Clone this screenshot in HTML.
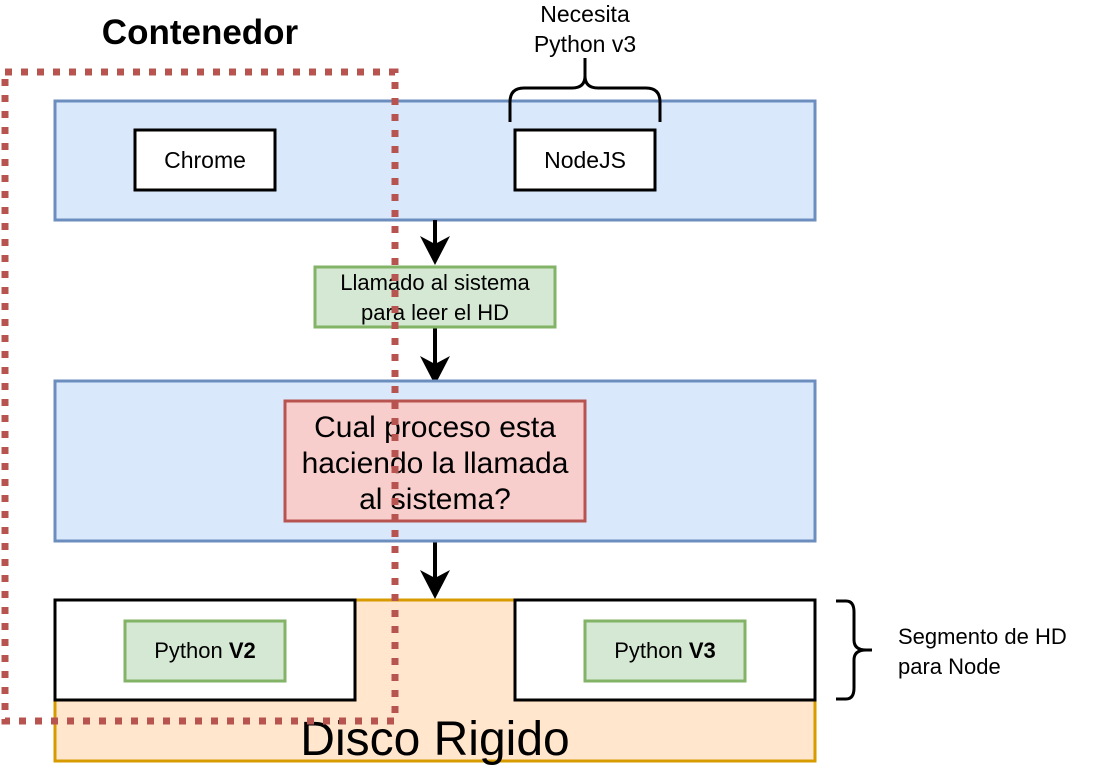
<!DOCTYPE html>
<html><head><meta charset="utf-8"><style>
html,body{margin:0;padding:0;background:#fff;}
svg{display:block;}
text{font-family:"Liberation Sans",Arial,sans-serif;fill:#000;}
</style></head><body>
<svg width="1096" height="768" viewBox="0 0 1096 768" xmlns="http://www.w3.org/2000/svg">
<!-- top blue -->
<rect x="55" y="101" width="760" height="119" fill="#dae8fc" stroke="#6c8ebf" stroke-width="3"/>
<rect x="135" y="130" width="140" height="60" fill="#fff" stroke="#000" stroke-width="3"/>
<text x="205" y="168" font-size="23" text-anchor="middle">Chrome</text>
<rect x="515" y="130" width="140" height="60" fill="#fff" stroke="#000" stroke-width="3"/>
<text x="585" y="168" font-size="23" text-anchor="middle">NodeJS</text>
<!-- brace top -->
<path d="M510,122 L510,102 Q510,88 524,88 L572,88 Q585,88 585,76 L585,58 M585,76 Q585,88 598,88 L646,88 Q660,88 660,102 L660,122" fill="none" stroke="#000" stroke-width="3"/>
<text x="585" y="22" font-size="23" text-anchor="middle">Necesita</text>
<text x="585" y="52" font-size="23" text-anchor="middle">Python v3</text>
<!-- arrows -->
<g stroke="#000" stroke-width="4" fill="none">
<line x1="435" y1="220" x2="435" y2="252"/>
<line x1="435" y1="327" x2="435" y2="372"/>
<line x1="435" y1="541" x2="435" y2="590"/>
</g>
<g fill="#000">
<path d="M420,236 L435,265 L450,236 L435,244 Z"/>
<path d="M420,356 L435,385 L450,356 L435,364 Z"/>
<path d="M420,570 L435,599 L450,570 L435,578 Z"/>
</g>
<!-- green call -->
<rect x="315" y="267" width="240" height="60" fill="#d5e8d4" stroke="#82b366" stroke-width="3"/>
<text x="435" y="290" font-size="22" text-anchor="middle">Llamado al sistema</text>
<text x="435" y="320" font-size="22" text-anchor="middle">para leer el HD</text>
<!-- middle blue -->
<rect x="55" y="381" width="760" height="160" fill="#dae8fc" stroke="#6c8ebf" stroke-width="3"/>
<rect x="285" y="401" width="300" height="120" fill="#f8cecc" stroke="#b85450" stroke-width="3"/>
<text x="435" y="437" font-size="30" text-anchor="middle">Cual proceso esta</text>
<text x="435" y="473" font-size="30" text-anchor="middle">haciendo la llamada</text>
<text x="435" y="509" font-size="30" text-anchor="middle">al sistema?</text>
<!-- disk -->
<rect x="55" y="600" width="760" height="161" fill="#ffe6cc" stroke="#d79b00" stroke-width="3"/>
<text x="435" y="755" font-size="48" text-anchor="middle">Disco Rigido</text>
<rect x="55" y="600" width="300" height="100" fill="#fff" stroke="#000" stroke-width="3"/>
<rect x="515" y="600" width="300" height="100" fill="#fff" stroke="#000" stroke-width="3"/>
<rect x="125" y="621" width="160" height="60" fill="#d5e8d4" stroke="#82b366" stroke-width="3"/>
<text x="205" y="658" font-size="22" text-anchor="middle">Python <tspan font-weight="bold">V2</tspan></text>
<rect x="585" y="621" width="160" height="60" fill="#d5e8d4" stroke="#82b366" stroke-width="3"/>
<text x="665" y="658" font-size="22" text-anchor="middle">Python <tspan font-weight="bold">V3</tspan></text>
<!-- right brace -->
<path d="M836,601 L846,601 Q854,601 854,612 L854,640 Q854,650 866,650 L872,650 M866,650 Q854,650 854,660 L854,688 Q854,699 846,699 L836,699" fill="none" stroke="#000" stroke-width="3"/>
<text x="898" y="644" font-size="22">Segmento de HD</text>
<text x="898" y="674" font-size="22">para Node</text>
<!-- container dashed -->
<rect x="5" y="72" width="390" height="649" fill="none" stroke="#b85450" stroke-width="7" stroke-dasharray="7,9"/>
<text x="200" y="44" font-size="35" font-weight="bold" text-anchor="middle">Contenedor</text>
</svg>
</body></html>
